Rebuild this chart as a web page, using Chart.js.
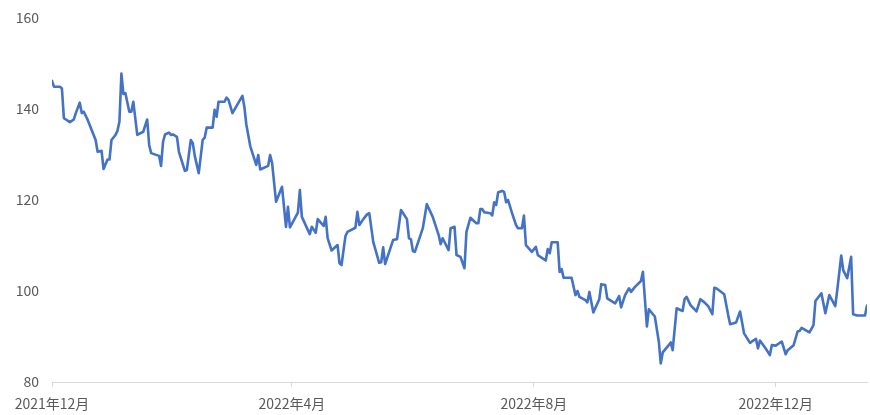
<!DOCTYPE html>
<html>
<head>
<meta charset="utf-8">
<script src="https://cdn.jsdelivr.net/npm/chart.js@4/dist/chart.umd.min.js"></script>
<style>
  html, body { margin:0; padding:0; background:#fff; }
  #chart { display:block; }
</style>
</head>
<body>
<canvas id="chart" width="870" height="415"></canvas>
<script>
// ================= DATA =================
const dates = [
  "2021-12-01","2021-12-02","2021-12-05","2021-12-06","2021-12-07","2021-12-08","2021-12-10","2021-12-12","2021-12-13","2021-12-15",
  "2021-12-16","2021-12-17","2021-12-19","2021-12-21","2021-12-23","2021-12-24","2021-12-26","2021-12-27","2021-12-29","2021-12-30",
  "2021-12-31","2022-01-02","2022-01-03","2022-01-04","2022-01-05","2022-01-06","2022-01-07","2022-01-09","2022-01-10","2022-01-11",
  "2022-01-13","2022-01-16","2022-01-18","2022-01-19","2022-01-20","2022-01-24","2022-01-25","2022-01-26","2022-01-27","2022-01-29",
  "2022-01-30","2022-01-31","2022-02-02","2022-02-03","2022-02-06","2022-02-07","2022-02-09","2022-02-10","2022-02-11","2022-02-13",
  "2022-02-15","2022-02-16","2022-02-17","2022-02-20","2022-02-21","2022-02-22","2022-02-23","2022-02-26","2022-02-27","2022-02-28",
  "2022-03-02","2022-03-07","2022-03-08","2022-03-09","2022-03-11","2022-03-14","2022-03-15","2022-03-16","2022-03-20","2022-03-21",
  "2022-03-22","2022-03-24","2022-03-27","2022-03-29","2022-03-30","2022-03-31","2022-04-04","2022-04-05","2022-04-06","2022-04-10",
  "2022-04-11","2022-04-13","2022-04-14","2022-04-17","2022-04-18","2022-04-19","2022-04-21","2022-04-24","2022-04-25","2022-04-26",
  "2022-04-28","2022-04-29","2022-05-03","2022-05-04","2022-05-05","2022-05-07","2022-05-09","2022-05-10","2022-05-12","2022-05-15",
  "2022-05-16","2022-05-17","2022-05-18","2022-05-22","2022-05-24","2022-05-26","2022-05-29","2022-05-30","2022-05-31","2022-06-01",
  "2022-06-02","2022-06-06","2022-06-08","2022-06-11","2022-06-14","2022-06-15","2022-06-16","2022-06-19","2022-06-20","2022-06-22",
  "2022-06-23","2022-06-25","2022-06-27","2022-06-28","2022-06-30","2022-07-03","2022-07-04","2022-07-05","2022-07-06","2022-07-07",
  "2022-07-10","2022-07-11","2022-07-12","2022-07-13","2022-07-14","2022-07-16","2022-07-17","2022-07-18","2022-07-19","2022-07-21",
  "2022-07-23","2022-07-24","2022-07-26","2022-07-27","2022-07-28","2022-07-31","2022-08-02","2022-08-03","2022-08-07","2022-08-08",
  "2022-08-09","2022-08-10","2022-08-13","2022-08-14","2022-08-15","2022-08-16","2022-08-20","2022-08-22","2022-08-23","2022-08-24",
  "2022-08-27","2022-08-28","2022-08-29","2022-08-31","2022-09-03","2022-09-04","2022-09-06","2022-09-07","2022-09-11","2022-09-13",
  "2022-09-14","2022-09-16","2022-09-18","2022-09-19","2022-09-21","2022-09-24","2022-09-25","2022-09-27","2022-09-28","2022-10-01",
  "2022-10-03","2022-10-04","2022-10-05","2022-10-08","2022-10-09","2022-10-10","2022-10-12","2022-10-15","2022-10-16","2022-10-17",
  "2022-10-19","2022-10-22","2022-10-24","2022-10-26","2022-10-28","2022-10-30","2022-10-31","2022-11-01","2022-11-05","2022-11-07",
  "2022-11-08","2022-11-11","2022-11-13","2022-11-15","2022-11-18","2022-11-21","2022-11-22","2022-11-23","2022-11-26","2022-11-28",
  "2022-11-29","2022-12-01","2022-12-04","2022-12-06","2022-12-07","2022-12-10","2022-12-12","2022-12-13","2022-12-14","2022-12-18",
  "2022-12-20","2022-12-21","2022-12-24","2022-12-26","2022-12-28","2022-12-31","2023-01-01","2023-01-03","2023-01-04","2023-01-06",
  "2023-01-08","2023-01-09","2023-01-11","2023-01-15","2023-01-16"
];

const prices = [
  146.2,144.9,144.9,144.5,138.0,137.7,137.1,137.7,139.1,141.4,
  139.1,139.4,137.6,135.4,133.2,130.6,130.8,126.8,128.9,128.9,
  133.2,134.3,135.2,137.2,147.8,143.3,143.5,139.4,139.4,141.6,
  134.3,135.0,137.7,132.1,130.3,129.7,127.5,132.8,134.4,134.8,
  134.3,134.4,133.9,130.6,126.4,126.6,133.2,132.5,129.7,125.9,
  133.2,133.7,135.9,135.9,139.8,138.3,141.6,141.6,142.5,142.0,
  139.1,142.9,140.5,136.6,131.8,127.7,129.9,126.7,127.5,129.9,
  128.1,119.6,122.9,114.1,118.5,114.0,117.2,122.2,116.3,112.5,
  114.1,112.8,115.8,114.3,116.3,111.6,108.9,110.1,106.1,105.7,
  112.1,113.0,113.9,117.4,114.5,115.8,116.9,117.1,110.8,106.2,
  106.3,109.6,105.9,111.2,111.4,117.8,115.8,111.6,111.4,108.8,
  108.6,113.8,119.1,116.3,112.3,110.3,111.6,109.0,113.8,114.1,
  107.9,107.5,105.0,113.0,116.1,114.9,114.9,118.0,118.0,117.3,
  117.1,116.6,119.5,118.9,121.7,122.0,121.8,119.5,120.0,117.1,
  114.5,113.8,113.8,116.6,110.1,108.6,109.7,107.9,106.7,109.2,
  108.3,110.7,110.7,104.2,104.8,102.9,102.9,99.1,100.0,98.7,
  98.0,97.5,99.8,95.3,98.2,101.5,101.3,98.4,97.3,98.9,
  96.4,99.1,100.6,99.8,100.9,102.2,104.2,92.2,96.0,94.4,
  88.9,84.1,86.5,88.1,88.7,87.0,96.2,95.6,98.2,98.7,
  96.9,95.5,98.2,97.5,96.6,94.9,100.7,100.6,99.3,94.7,
  92.7,93.1,95.5,90.7,88.6,89.5,87.4,89.1,87.3,85.9,
  88.1,88.0,88.9,86.1,87.0,88.1,91.1,91.2,91.9,90.9,
  92.5,97.8,99.5,95.1,99.1,96.7,100.2,107.8,104.6,102.8,
  107.5,94.9,94.6,94.6,96.8
];

const tickDates  = ["2021-12-01","2022-04-01","2022-08-01","2022-12-01"];
const tickLabels = ["2021年12月","2022年4月","2022年8月","2022年12月"];
const yTicks = [80,100,120,140,160];

// ================= HELPERS =================
const START = Date.UTC(2021, 11, 1);
function dayIndex(s){
    const [y,m,d] = s.split("-").map(Number);
    return Math.round((Date.UTC(y, m-1, d) - START) / 86400000);
}

const points = dates.map((d,i) => ({x: dayIndex(d), y: prices[i]}));
const tickDays = tickDates.map(dayIndex);
const lastDay = points[points.length-1].x;

const FONT = '"Noto Sans CJK SC", "Noto Sans", sans-serif';
const TEXT = '#595959';
const AXIS = '#D9D9D9';

// ================= CHART =================
new Chart(document.getElementById("chart").getContext("2d"), {
    type:'line',
    data:{
        datasets:[{
            data: points,
            borderColor:'#4472C4',
            borderWidth:2.6,
            pointRadius:0,
            tension:0,
            fill:false,
            borderJoinStyle:'round',
            borderCapStyle:'round'
        }]
    },
    options:{
        responsive:false,
        animation:false,
        devicePixelRatio:1,
        layout:{padding:{top:18, right:3, bottom:0, left:0}},
        plugins:{legend:{display:false}, tooltip:{enabled:false}},
        scales:{
            x:{
                type:'linear',
                min:0,
                max:lastDay,
                afterBuildTicks: s => { s.ticks = tickDays.map(v => ({value:v})); },
                afterFit: s => { s.height = 33; },
                ticks:{
                    autoSkip:false,
                    maxRotation:0,
                    padding:8,
                    color:TEXT,
                    font:{family:FONT, size:14},
                    callback: v => tickLabels[tickDays.indexOf(v)]
                },
                grid:{display:true, drawOnChartArea:false, drawTicks:true, tickLength:5, color:AXIS},
                border:{display:true, color:AXIS, width:1}
            },
            y:{
                min:80,
                max:160,
                afterBuildTicks: s => { s.ticks = yTicks.map(v => ({value:v})); },
                afterFit: s => { s.width = 52; },
                ticks:{
                    padding:0,
                    color:TEXT,
                    font:{family:FONT, size:14}
                },
                // invisible tick marks only push the labels away from the plot
                grid:{display:true, drawOnChartArea:false, drawTicks:true, tickLength:13, color:'rgba(0,0,0,0)'},
                border:{display:false}
            }
        }
    }
});
</script>
</body>
</html>
